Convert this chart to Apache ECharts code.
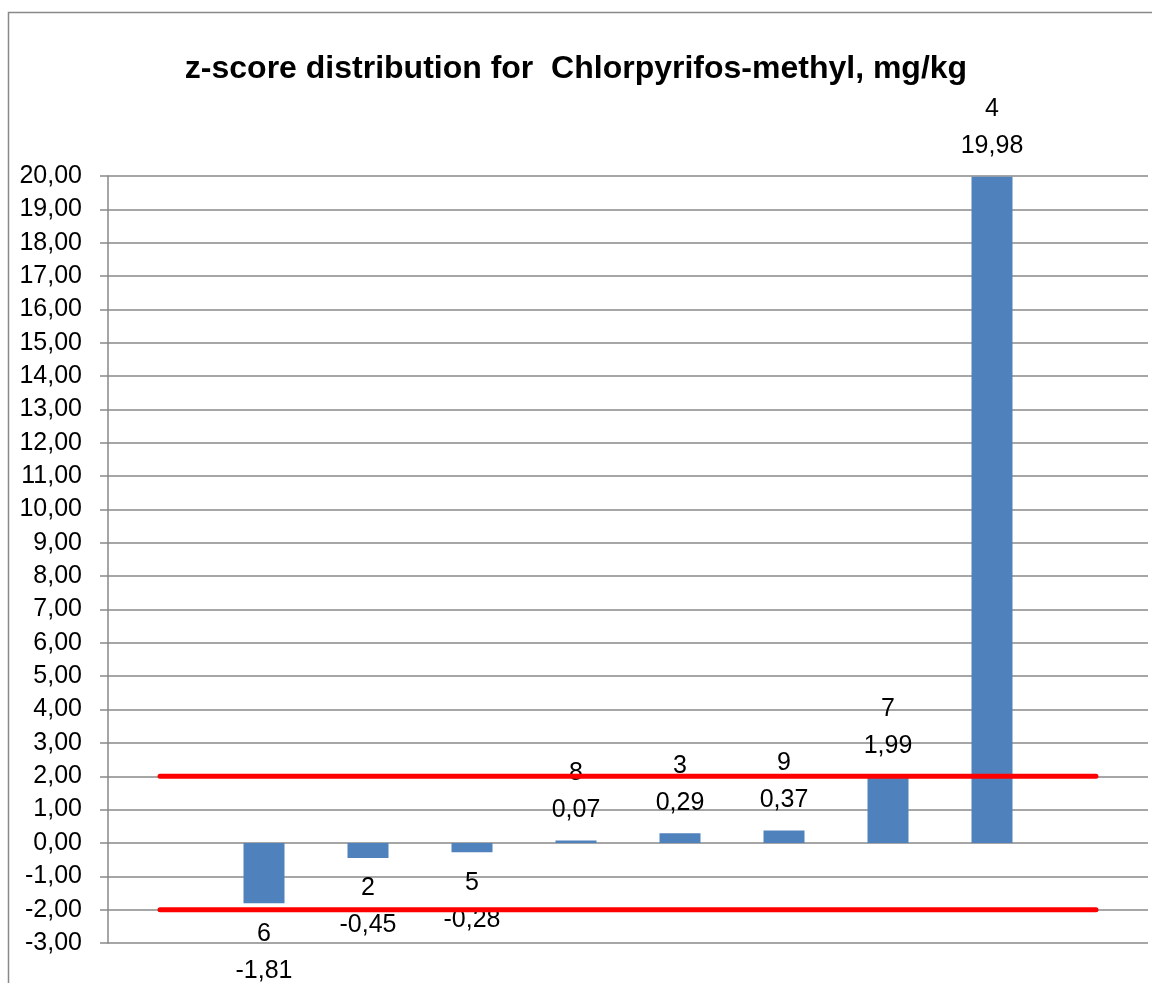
<!DOCTYPE html>
<html>
<head>
<meta charset="utf-8">
<script src="https://cdn.jsdelivr.net/npm/echarts@6/dist/echarts.min.js"></script>
<style>
  html, body { margin: 0; padding: 0; background: #fff; }
  #chart { width: 1152px; height: 983px; }
</style>
</head>
<body>
<div id="chart"></div>
<script>
// lab codes and their z-scores, in plotted order
const labs = ['6', '2', '5', '8', '3', '9', '7', '4']
const zScores = [-1.81, -0.45, -0.28, 0.07, 0.29, 0.37, 1.99, 19.98]
// acceptance limits |z| <= 2
const upperLimit = 2
const lowerLimit = -2
const yMin = -3
const yMax = 20

// empty slot at each end so the limit lines stick out past the bars
const categories = [' ', ...labs, '  ']
const barData = [null, ...zScores.map(v => ({
  value: v,
  label: { position: v < 0 ? 'bottom' : 'top' }
})), null]
const upperData = categories.map(() => upperLimit)
const lowerData = categories.map(() => lowerLimit)

const fmt = v => v.toFixed(2).replace('.', ',')
const font = '"Liberation Sans", Arial, sans-serif'

const chart = echarts.init(document.getElementById('chart'))

chart.setOption({
  animation: false,
  title: {
    text: 'z-score distribution for  Chlorpyrifos-methyl, mg/kg',
    left: 'center',
    top: 48,
    textStyle: { fontFamily: font, fontSize: 32, fontWeight: 'bold', color: '#000' }
  },
  graphic: [{
    type: 'rect',
    shape: { x: 8.5, y: 12.5, width: 1160, height: 1000 },
    style: { fill: 'none', stroke: '#898989', lineWidth: 1.5 },
    silent: true
  }],
  grid: { left: 108, right: 4, top: 176, bottom: 40 },
  xAxis: {
    type: 'category',
    data: categories,
    axisLine: { show: false },
    axisTick: { show: false },
    axisLabel: { show: false }
  },
  yAxis: {
    type: 'value',
    min: yMin,
    max: yMax,
    interval: 1,
    axisLine: { show: true, lineStyle: { color: '#898989', width: 1.5 } },
    axisTick: { show: true, length: 8, lineStyle: { color: '#898989', width: 1.5 } },
    axisLabel: {
      formatter: v => fmt(v),
      fontFamily: font,
      fontSize: 25,
      color: '#000',
      margin: 26
    },
    splitLine: { lineStyle: { color: '#898989', width: 1.5 } }
  },
  series: [
    {
      type: 'bar',
      data: barData,
      barWidth: 41,
      itemStyle: { color: '#4f81bd' },
      label: {
        show: true,
        distance: 12,
        fontFamily: font,
        fontSize: 25,
        lineHeight: 37,
        color: '#000',
        formatter: p => labs[p.dataIndex - 1] + '\n' + fmt(p.value)
      },
      z: 2
    },
    {
      type: 'line',
      data: upperData,
      symbol: 'none',
      lineStyle: { color: '#ff0000', width: 5, cap: 'round' },
      z: 3
    },
    {
      type: 'line',
      data: lowerData,
      symbol: 'none',
      lineStyle: { color: '#ff0000', width: 5, cap: 'round' },
      z: 3
    }
  ]
})
</script>
</body>
</html>
